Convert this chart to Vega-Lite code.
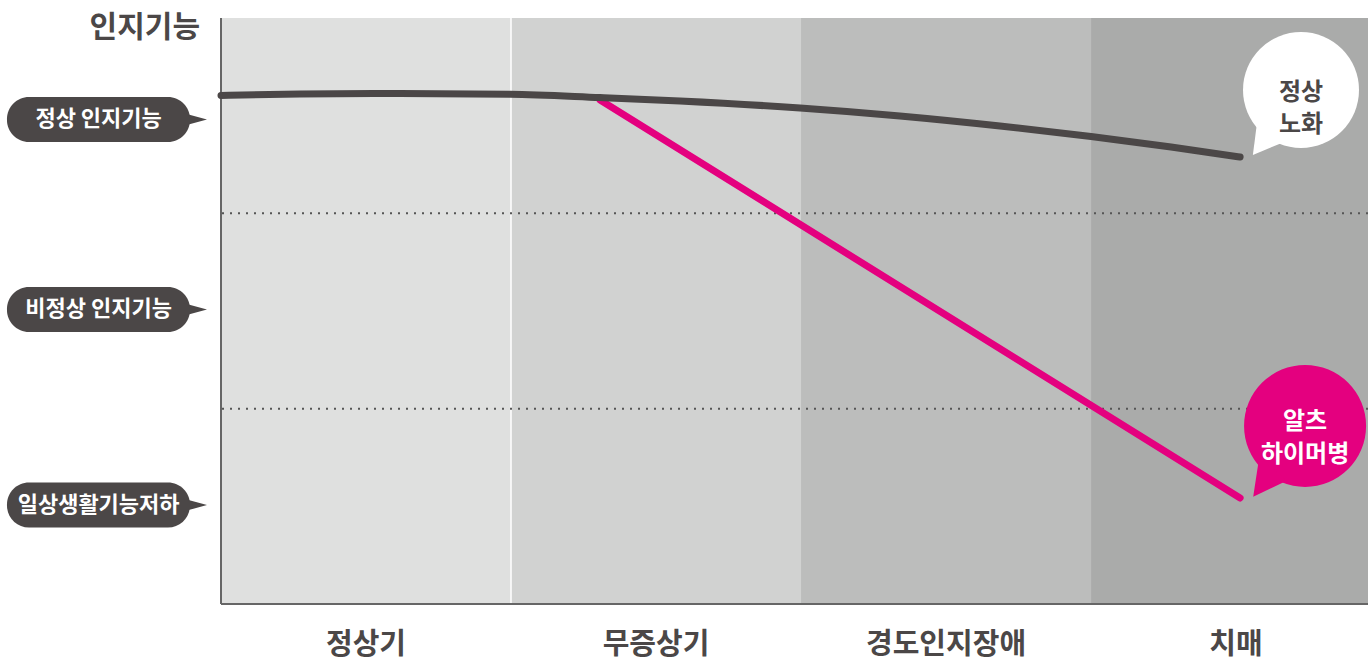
{
  "$schema": "https://vega.github.io/schema/vega-lite/v6.json",
  "width": 1147,
  "height": 586,
  "autosize": {"type": "none"},
  "padding": {"left": 221, "top": 18, "right": 0, "bottom": 57},
  "background": "white",
  "config": {"view": {"stroke": null}, "font": "Noto Sans CJK KR"},
  "datasets": {
    "stages": [
      {"stage": "정상기", "start": 0, "end": 1, "mid": 0.5},
      {"stage": "무증상기", "start": 1, "end": 2, "mid": 1.5},
      {"stage": "경도인지장애", "start": 2, "end": 3, "mid": 2.5},
      {"stage": "치매", "start": 3, "end": 4, "mid": 3.5}
    ],
    "levels": [
      {"label": "정상 인지기능", "level": 82.68},
      {"label": "비정상 인지기능", "level": 50.26},
      {"label": "일상생활기능저하", "level": 16.89}
    ],
    "bounds": [{"b": 33.33}, {"b": 66.67}],
    "normal": [
      {"x": 0, "y": 86.77},
      {"x": 0.272, "y": 87.03},
      {"x": 0.617, "y": 87.12},
      {"x": 0.997, "y": 87.0},
      {"x": 1.307, "y": 86.43},
      {"x": 1.583, "y": 85.84},
      {"x": 1.997, "y": 84.64},
      {"x": 2.341, "y": 83.28},
      {"x": 2.686, "y": 81.57},
      {"x": 3.0, "y": 79.78},
      {"x": 3.276, "y": 77.99},
      {"x": 3.514, "y": 76.28}
    ],
    "alz": [
      {"x": 1.307, "y": 86.01},
      {"x": 3.514, "y": 18.09}
    ],
    "bubbleN": [{"x": 3.724, "y": 87.71, "t": "정상\n노화"}],
    "bubbleA": [{"x": 3.738, "y": 30.38, "t": "알츠\n하이머병"}]
  },
  "layer": [
    {
      "data": {"name": "stages"},
      "mark": {"type": "rect", "clip": true},
      "encoding": {
        "x": {"field": "start", "type": "quantitative", "scale": {"domain": [0, 3.955], "nice": false, "zero": false}, "axis": null},
        "x2": {"field": "end"},
        "color": {"field": "stage", "type": "nominal", "scale": {"domain": ["정상기", "무증상기", "경도인지장애", "치매"], "range": ["#dfe0df", "#d1d2d1", "#bcbdbc", "#aaabaa"]}, "legend": null}
      }
    },
    {
      "data": {"values": [{"sep": 1}]},
      "mark": {"type": "rule", "color": "#ffffff", "strokeWidth": 1.5},
      "encoding": {"x": {"field": "sep", "type": "quantitative"}}
    },
    {
      "data": {"name": "bounds"},
      "mark": {"type": "rule", "color": "#555555", "strokeWidth": 2, "strokeDash": [2, 6]},
      "encoding": {"y": {"field": "b", "type": "quantitative", "scale": {"domain": [0, 100], "nice": false, "zero": false}, "axis": null}}
    },
    {
      "data": {"values": [{"v": 0}]},
      "mark": {"type": "rule", "color": "#666666", "strokeWidth": 2},
      "encoding": {"x": {"field": "v", "type": "quantitative"}}
    },
    {
      "data": {"values": [{"v": 0}]},
      "mark": {"type": "rule", "color": "#666666", "strokeWidth": 2},
      "encoding": {"y": {"field": "v", "type": "quantitative"}}
    },
    {
      "data": {"name": "alz"},
      "mark": {"type": "line", "color": "#e4007f", "strokeWidth": 7, "strokeCap": "round"},
      "encoding": {"x": {"field": "x", "type": "quantitative"}, "y": {"field": "y", "type": "quantitative"}}
    },
    {
      "data": {"name": "normal"},
      "mark": {"type": "line", "color": "#4b4747", "strokeWidth": 7, "strokeCap": "round", "interpolate": "monotone"},
      "encoding": {"x": {"field": "x", "type": "quantitative"}, "y": {"field": "y", "type": "quantitative"}}
    },
    {
      "data": {"name": "bubbleN"},
      "mark": {"type": "point", "shape": "circle", "filled": true, "opacity": 1, "color": "#ffffff", "size": 13456},
      "encoding": {"x": {"field": "x", "type": "quantitative"}, "y": {"field": "y", "type": "quantitative"}}
    },
    {
      "data": {"name": "bubbleN"},
      "mark": {"type": "point", "shape": "M-0.75,0.5 L-0.83,1.12 L-0.3,0.9 Z", "filled": true, "opacity": 1, "color": "#ffffff", "size": 13456},
      "encoding": {"x": {"field": "x", "type": "quantitative"}, "y": {"field": "y", "type": "quantitative"}}
    },
    {
      "data": {"name": "bubbleN"},
      "mark": {"type": "text", "lineBreak": "\n", "fontSize": 24, "fontWeight": "bold", "color": "#4b4747", "lineHeight": 32, "baseline": "middle", "align": "center", "dy": 3},
      "encoding": {"x": {"field": "x", "type": "quantitative"}, "y": {"field": "y", "type": "quantitative"}, "text": {"field": "t"}}
    },
    {
      "data": {"name": "bubbleA"},
      "mark": {"type": "point", "shape": "circle", "filled": true, "opacity": 1, "color": "#e4007f", "size": 14884},
      "encoding": {"x": {"field": "x", "type": "quantitative"}, "y": {"field": "y", "type": "quantitative"}}
    },
    {
      "data": {"name": "bubbleA"},
      "mark": {"type": "point", "shape": "M-0.75,0.5 L-0.85,1.16 L-0.3,0.9 Z", "filled": true, "opacity": 1, "color": "#e4007f", "size": 14884},
      "encoding": {"x": {"field": "x", "type": "quantitative"}, "y": {"field": "y", "type": "quantitative"}}
    },
    {
      "data": {"name": "bubbleA"},
      "mark": {"type": "text", "lineBreak": "\n", "fontSize": 24, "fontWeight": "bold", "color": "#ffffff", "lineHeight": 33, "baseline": "middle", "align": "center", "dy": -4},
      "encoding": {"x": {"field": "x", "type": "quantitative"}, "y": {"field": "y", "type": "quantitative"}, "text": {"field": "t"}}
    },
    {
      "data": {"name": "levels"},
      "mark": {"type": "rect", "color": "#4b4747", "cornerRadius": 22, "height": 45},
      "encoding": {
        "x": {"datum": -0.738, "type": "quantitative"},
        "x2": {"datum": -0.107},
        "y": {"field": "level", "type": "quantitative"}
      }
    },
    {
      "data": {"name": "levels"},
      "mark": {"type": "point", "shape": "M-1,-0.55 L1,0 L-1,0.55 Z", "filled": true, "opacity": 1, "color": "#4b4747", "size": 576},
      "encoding": {
        "x": {"datum": -0.0897, "type": "quantitative"},
        "y": {"field": "level", "type": "quantitative"}
      }
    },
    {
      "data": {"name": "levels"},
      "mark": {"type": "text", "color": "#ffffff", "fontSize": 22, "fontWeight": "bold", "align": "center", "baseline": "middle"},
      "encoding": {
        "x": {"datum": -0.422, "type": "quantitative"},
        "y": {"field": "level", "type": "quantitative"},
        "text": {"field": "label"}
      }
    },
    {
      "data": {"values": [{"title": "인지기능"}]},
      "mark": {"type": "text", "color": "#4b4747", "fontSize": 30, "fontWeight": "bold", "align": "right", "baseline": "middle"},
      "encoding": {
        "x": {"datum": -0.0724, "type": "quantitative"},
        "y": {"datum": 98.3, "type": "quantitative"},
        "text": {"field": "title"}
      }
    },
    {
      "data": {"name": "stages"},
      "mark": {"type": "text", "color": "#4b4747", "fontSize": 29, "fontWeight": "bold", "align": "center", "baseline": "middle"},
      "encoding": {
        "x": {"field": "mid", "type": "quantitative"},
        "y": {"datum": -7.0, "type": "quantitative"},
        "text": {"field": "stage"}
      }
    }
  ]
}
